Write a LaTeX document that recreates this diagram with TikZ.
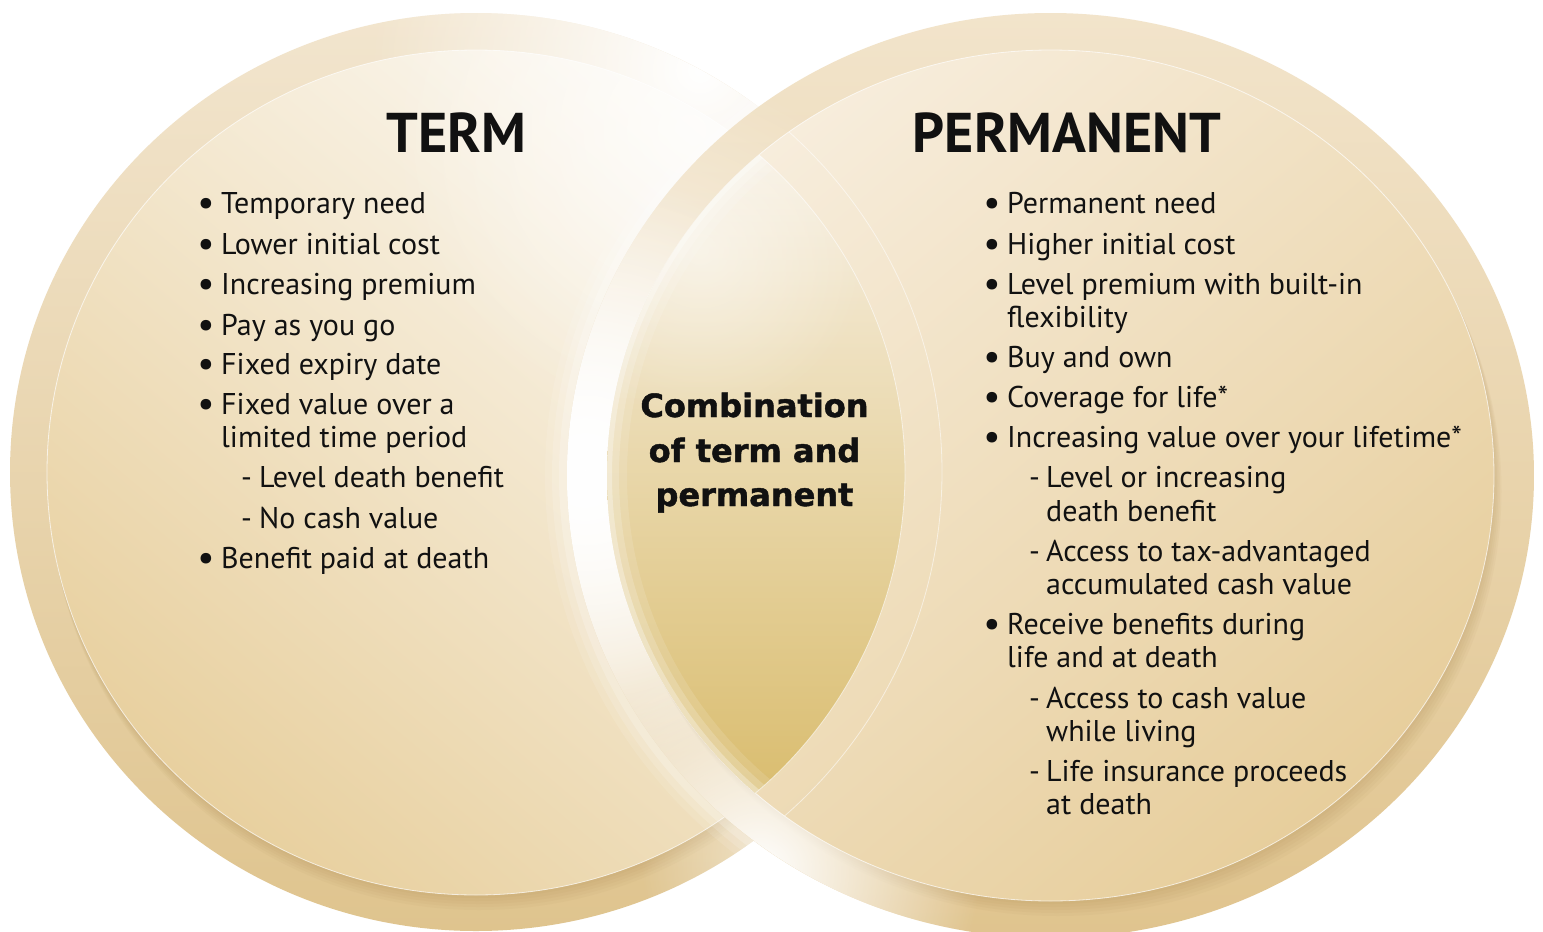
\documentclass[tikz,border=0pt]{standalone}
\usepackage{fontspec}
\newfontfamily\bodyfont{PT Sans}
\newfontfamily\combfont{DejaVu Sans Bold}[FakeBold=1.4]
\usetikzlibrary{fadings}
\definecolor{ink}{HTML}{111111}
\definecolor{ringLtop}{HTML}{F2E5CE}
\definecolor{ringLmid}{HTML}{E8D2A4}
\definecolor{ringLbot}{HTML}{DFC48E}
\definecolor{innLlight}{HTML}{FCF9F3}
\definecolor{innLdark}{HTML}{E8D09F}
\definecolor{ringRtop}{HTML}{F2E4CB}
\definecolor{ringRmid}{HTML}{E7CF9F}
\definecolor{ringRbot}{HTML}{E0C48E}
\definecolor{innRlight}{HTML}{F7EDDC}
\definecolor{innRdark}{HTML}{E7CE9C}
\definecolor{lensTop}{HTML}{F8F1E5}
\definecolor{lensMid}{HTML}{ECD8AD}
\definecolor{lensBot}{HTML}{D9BC6D}
\definecolor{shadowc}{HTML}{A27F45}
\tikzfading[name=softblob, inner color=transparent!0, outer color=transparent!100]
\begin{document}
\begin{tikzpicture}[x=1pt,y=-1pt,
  body/.style={font=\bodyfont\fontsize{30}{33}\selectfont, inner sep=0pt, anchor=base west, text=ink},
  bul/.style={font=\bodyfont\fontsize{38}{40}\selectfont, inner sep=0pt, anchor=base, text=ink},
  head/.style={font=\bodyfont\bfseries\fontsize{56}{60}\selectfont, inner sep=0pt, anchor=base, text=ink},
  comb/.style={font=\combfont\fontsize{32}{36}\selectfont, inner sep=0pt, anchor=base, text=ink},
  blob/.style={white, path fading=softblob},
  edgeline/.style={white, line width=0.8pt, opacity=0.7}
]
\useasboundingbox (0,0) rectangle (1543,932);
\fill[white] (0,0) rectangle (1543,932);

\coordinate (L) at (476,472.5);
\coordinate (R) at (1050.5,475.5);

% ---------- left circle ----------
\begin{scope}
  \clip (476,472) ellipse [x radius=466, y radius=459];
  \shade[top color=ringLtop, middle color=ringLmid, bottom color=ringLbot] (476,472) ellipse [x radius=466, y radius=459];
  \foreach \d in {3,6,9,12,15}{
    \fill[shadowc, opacity=0.05] (476+\d*0.2, 472.5+\d) ellipse [x radius=429, y radius=422.5];
  }
  \fill[blob] (700,70) circle [radius=330];
  \fill[blob, opacity=0.6] (800,860) circle [radius=160];
\end{scope}
\shade[top color=innLlight, bottom color=innLdark, shading angle=-40] (L) ellipse [x radius=429, y radius=422.5];
\begin{scope}
  \clip (L) ellipse [x radius=429, y radius=422.5];
  \fill[blob, opacity=0.7] (690,130) circle [radius=300];
\end{scope}
\draw[edgeline] (L) ellipse [x radius=429, y radius=422.5];

% ---------- halo of the right circle ----------
\foreach \w/\o in {44/0.10, 30/0.14, 16/0.2}{
  \draw[white, line width=\w pt, opacity=\o] (R) ellipse [x radius=483.5, y radius=462.5];
}

% ---------- right circle ----------
\begin{scope}
  \clip (R) ellipse [x radius=483.5, y radius=462.5];
  \shade[top color=ringRtop, middle color=ringRmid, bottom color=ringRbot] (R) ellipse [x radius=483.5, y radius=462.5];
  \foreach \d in {3,6,9,12,15}{
    \fill[shadowc, opacity=0.05] (1050.5+\d*0.5, 475.5+\d) ellipse [x radius=443.5, y radius=425.5];
  }
  \fill[blob] (585,470) circle [radius=420];
  \fill[blob] (585,470) circle [radius=300];
  \fill[blob] (760,870) circle [radius=220];
\end{scope}
\shade[top color=innRlight, bottom color=innRdark, shading angle=40] (R) ellipse [x radius=443.5, y radius=425.5];
\draw[edgeline] (R) ellipse [x radius=443.5, y radius=425.5];
\begin{scope}
  \clip (R) ellipse [x radius=443.5, y radius=425.5];
  \draw[white, line width=0.8pt, opacity=0.55] (476,472) ellipse [x radius=466, y radius=459];
\end{scope}

% ---------- lens ----------
\begin{scope}
  \clip (L) ellipse [x radius=429, y radius=422.5];
  \clip (R) ellipse [x radius=443.5, y radius=425.5];
  \shade[top color=lensTop, middle color=lensMid, bottom color=lensBot] (590,140) rectangle (920,805);
  \fill[blob, opacity=0.5] (700,250) circle [radius=170];
  \foreach \w/\o in {40/0.12, 24/0.18, 10/0.3}{
    \draw[white, line width=\w pt, opacity=\o] (R) ellipse [x radius=443.5, y radius=425.5];
  }
\end{scope}
\begin{scope}
  \clip (R) ellipse [x radius=443.5, y radius=425.5];
  \draw[white, line width=0.8pt, opacity=0.6] (L) ellipse [x radius=429, y radius=422.5];
\end{scope}

% ---------- headings ----------
\node[head] (term) at (456.5,152) {TERM};
\node[head] (perm) at (1067,152) {PERMANENT};

% ---------- centre ----------
\node[comb] (c1) at (754.5,417) {Combination};
\node[comb] (c2) at (754.5,462) {of term and};
\node[comb] (c3) at (754.5,506) {permanent};

% ---------- left list ----------
\node[bul] (lb1) at (206,215) {•};
\node[body] (l1) at (221,213) {Temporary need};
\node[bul] (lb2) at (206,256) {•};
\node[body] (l2) at (221,254) {Lower initial cost};
\node[bul] (lb3) at (206,296) {•};
\node[body] (l3) at (221,294) {Increasing premium};
\node[bul] (lb4) at (206,337) {•};
\node[body] (l4) at (221,335) {Pay as you go};
\node[bul] (lb5) at (206,376) {•};
\node[body] (l5) at (221,374) {Fixed expiry date};
\node[bul] (lb6) at (206,416) {•};
\node[body] (l6) at (221,414) {Fixed value over a};
\node[body] (l6b) at (221,447) {limited time period};
\node[body] (ld1) at (241,487) {-};
\node[body] (l7) at (259,487) {Level death benefit};
\node[body] (ld2) at (241,528) {-};
\node[body] (l8) at (259,528) {No cash value};
\node[bul] (lb9) at (206,570) {•};
\node[body] (l9) at (221,568) {Benefit paid at death};

% ---------- right list ----------
\node[bul] (rb1) at (992,215) {•};
\node[body] (r1) at (1007,213) {Permanent need};
\node[bul] (rb2) at (992,256) {•};
\node[body] (r2) at (1007,254) {Higher initial cost};
\node[bul] (rb3) at (992,296) {•};
\node[body] (r3) at (1007,294) {Level premium with built-in};
\node[body] (r3b) at (1007,327) {flexibility};
\node[bul] (rb4) at (992,369) {•};
\node[body] (r4) at (1007,367) {Buy and own};
\node[bul] (rb5) at (992,409) {•};
\node[body] (r5) at (1007,407) {Coverage for life*};
\node[bul] (rb6) at (992,449) {•};
\node[body] (r6) at (1007,447) {Increasing value over your lifetime*};
\node[body] (rd1) at (1029,487) {-};
\node[body] (r7) at (1046,487) {Level or increasing};
\node[body] (r7b) at (1046,521) {death benefit};
\node[body] (rd2) at (1029,561) {-};
\node[body] (r8) at (1046,561) {Access to tax-advantaged};
\node[body] (r8b) at (1046,594) {accumulated cash value};
\node[bul] (rb9) at (992,636) {•};
\node[body] (r9) at (1007,634) {Receive benefits during};
\node[body] (r9b) at (1007,667) {life and at death};
\node[body] (rd3) at (1029,708) {-};
\node[body] (r10) at (1046,708) {Access to cash value};
\node[body] (r10b) at (1046,741) {while living};
\node[body] (rd4) at (1029,781) {-};
\node[body] (r11) at (1046,781) {Life insurance proceeds};
\node[body] (r11b) at (1046,814) {at death};
\end{tikzpicture}
\end{document}
